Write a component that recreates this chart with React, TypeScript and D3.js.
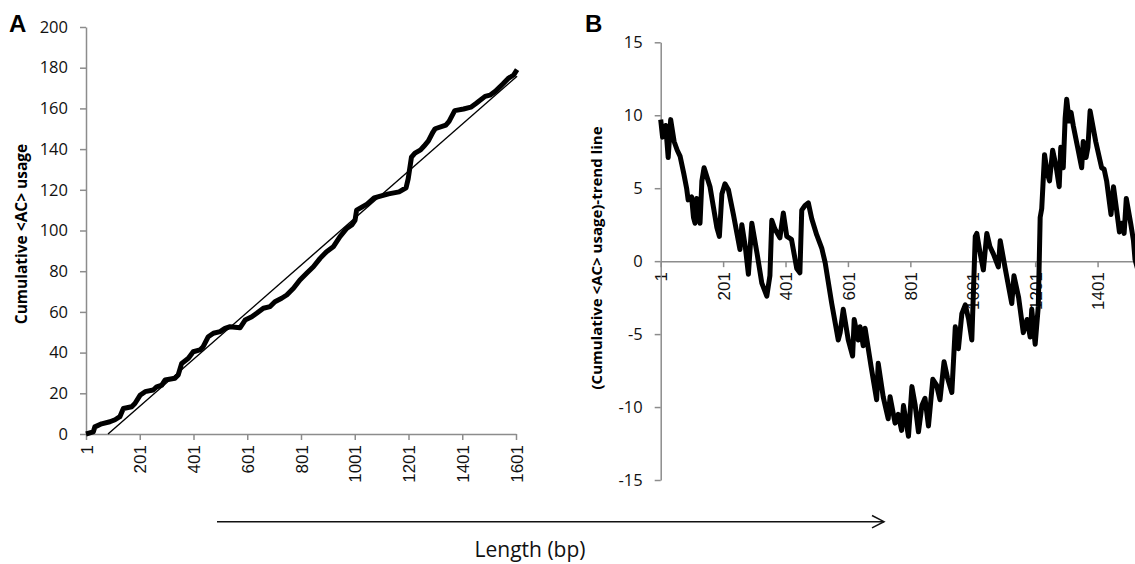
import React, { useEffect, useRef } from "react";
import * as d3 from "d3";

// Panel A: cumulative <AC> usage along the sequence
const aPos = [1, 28, 34, 59, 90, 109, 127, 140, 171, 183, 202, 221, 251, 264, 283, 295, 332, 344, 357, 382, 400, 425, 437, 456, 475, 500, 518, 537, 574, 593, 618, 636, 661, 686, 704, 729, 748, 773, 797, 822, 847, 872, 896, 921, 946, 971, 990, 1002, 1008, 1047, 1073, 1127, 1166, 1192, 1200, 1212, 1225, 1246, 1259, 1275, 1292, 1300, 1340, 1352, 1373, 1406, 1433, 1452, 1486, 1504, 1525, 1552, 1571, 1592, 1605];
const aVal = [0, 1, 3.5, 5, 6, 7, 8.5, 12.5, 13.4, 15, 19, 20.8, 21.6, 23.2, 24, 26.5, 27.4, 29, 34.7, 37.2, 40.4, 41.3, 42.9, 47.8, 49.5, 50.3, 51.9, 52.7, 52.2, 56, 57.6, 59.3, 61.8, 62.6, 65, 66.7, 68.3, 71.6, 75.7, 79, 82.2, 86.3, 89.6, 92, 97, 101, 102.7, 105, 110, 113, 116, 118, 119, 121, 125.5, 136, 138, 139.6, 141.5, 144, 148.4, 150, 151.8, 153.6, 158.9, 159.7, 160.6, 162.4, 165.9, 166.5, 168.5, 172, 174.6, 176.4, 179];
// linear trend line of panel A
const trendPos = [83, 1605];
const trendVal = [0, 175.8];

// Panel B: cumulative usage minus trend line
const bPos = [1, 7, 17, 25, 33, 44, 54, 63, 75, 84, 89, 100, 106, 111, 116, 127, 133, 140, 159, 170, 181, 189, 197, 207, 218, 234, 255, 261, 272, 282, 293, 310, 325, 341, 351, 357, 367, 383, 394, 405, 420, 437, 447, 453, 463, 474, 485, 501, 517, 528, 549, 570, 576, 586, 602, 616, 621, 634, 640, 650, 656, 675, 693, 698, 714, 730, 736, 752, 762, 773, 779, 795, 806, 816, 827, 838, 848, 859, 873, 885, 896, 909, 920, 934, 945, 955, 966, 977, 988, 998, 1009, 1014, 1025, 1035, 1046, 1056, 1067, 1083, 1089, 1105, 1126, 1133, 1148, 1163, 1175, 1185, 1190, 1201, 1211, 1217, 1222, 1231, 1240, 1247, 1257, 1268, 1278, 1283, 1291, 1297, 1302, 1310, 1316, 1323, 1337, 1350, 1355, 1364, 1370, 1377, 1395, 1414, 1422, 1430, 1444, 1452, 1462, 1471, 1478, 1486, 1493, 1507, 1516, 1521, 1535];
const bVal = [9.7, 8.5, 9.3, 7.1, 9.7, 8.2, 7.6, 7.2, 6.0, 5.0, 4.2, 4.4, 3.0, 2.6, 4.3, 2.6, 5.5, 6.4, 5.1, 3.7, 2.3, 1.7, 4.6, 5.3, 4.9, 3.2, 0.8, 2.5, 1.0, -0.9, 2.6, 0.5, -1.5, -2.4, -1.0, 2.8, 2.2, 1.6, 3.3, 1.7, 1.5, -0.5, -0.8, 3.5, 3.8, 4.0, 2.9, 1.8, 0.9, -0.1, -2.9, -5.4, -4.9, -3.3, -5.4, -6.5, -4.0, -5.4, -4.5, -5.8, -4.6, -7.2, -9.5, -7.0, -9.3, -10.8, -9.3, -11.1, -10.5, -11.6, -9.9, -12.0, -8.6, -9.8, -11.7, -9.9, -9.4, -11.3, -8.1, -8.5, -9.5, -6.9, -8.0, -9.0, -4.5, -6.0, -3.6, -3.0, -4.0, -5.4, 1.7, 1.9, 0.5, -0.6, 1.9, 1.0, 0.5, -0.4, 1.4, -0.5, -2.9, -1.0, -2.5, -4.9, -4.0, -5.2, -3.3, -5.7, -3.1, 3.0, 3.6, 7.3, 6.0, 5.5, 7.6, 6.5, 5.1, 7.8, 6.4, 9.8, 11.1, 9.6, 10.2, 9.3, 7.8, 6.4, 8.2, 7.1, 7.8, 10.3, 8.2, 6.4, 6.3, 5.5, 3.2, 5.1, 3.5, 2.0, 2.6, 1.9, 4.3, 2.6, 1.4, 0.1, -1.0];

const xTicks = [1, 201, 401, 601, 801, 1001, 1201, 1401, 1601];
const aYTicks = [0, 20, 40, 60, 80, 100, 120, 140, 160, 180, 200];
const bYTicks = [-15, -10, -5, 0, 5, 10, 15];

const AXIS = "#8c8c8c";
const W = 1135, H = 564;

const App = () => {
  const ref = useRef<SVGSVGElement>(null);

  useEffect(() => {
    const svg = d3.select(ref.current);
    svg.selectAll("*").remove();

    const plain = (d: any) => String(d); // hyphen minus, like the original

    const styleAxis = (g: any) => {
      g.select(".domain").attr("stroke", AXIS).attr("stroke-width", 1.5);
      g.selectAll(".tick line").attr("stroke", AXIS).attr("stroke-width", 1.5);
      g.selectAll("text").attr("fill", "#111");
    };
    const rotateLabels = (g: any) => {
      g.selectAll("text")
        .attr("transform", "rotate(-90)")
        .attr("x", -11)
        .attr("y", 0)
        .attr("dy", "0.36em")
        .style("text-anchor", "end")
        .attr("font-family", "'Liberation Sans', Arial, sans-serif")
        .attr("font-size", 17);
    };

    // ---------- Panel A ----------
    const xA = d3.scaleLinear().domain([1, 1601]).range([86, 516]);
    const yA = d3.scaleLinear().domain([0, 200]).range([434, 27]);

    svg.append("g")
      .attr("transform", `translate(0,${yA(0)})`)
      .call(d3.axisBottom(xA).tickValues(xTicks).tickSize(6).tickSizeOuter(0).tickFormat(plain))
      .call(styleAxis)
      .call(rotateLabels);

    svg.append("g")
      .attr("transform", `translate(${xA(1)},0)`)
      .call(d3.axisLeft(yA).tickValues(aYTicks).tickSize(6).tickSizeOuter(0).tickPadding(12).tickFormat(plain))
      .call(styleAxis)
      .call((g: any) => g.selectAll("text").attr("font-family", "'Open Sans', sans-serif").attr("font-size", 16.5));

    svg.append("path")
      .datum(trendVal)
      .attr("fill", "none")
      .attr("stroke", "#000")
      .attr("stroke-width", 1.4)
      .attr("d", d3.line<number>().x((d, i) => xA(trendPos[i])).y((d) => yA(d)));
    svg.append("path")
      .datum(aVal)
      .attr("fill", "none")
      .attr("stroke", "#000")
      .attr("stroke-width", 5)
      .attr("stroke-linejoin", "round")
      .attr("d", d3.line<number>().x((d, i) => xA(aPos[i])).y((d) => yA(d)));

    // ---------- Panel B ----------
    const xB = d3.scaleLinear().domain([1, 1601]).range([660.7, 1160]);
    const yB = d3.scaleLinear().domain([-15, 15]).range([480, 42.3]);
    // the right part of panel B is cut by the picture edge
    const bXTicks = xTicks.filter((t) => xB(t) < W - 10);

    svg.append("g")
      .attr("transform", `translate(0,${yB(0)})`)
      .call(d3.axisBottom(xB).tickValues(bXTicks).tickSize(6).tickSizeOuter(0).tickFormat(plain))
      .call(styleAxis)
      .call(rotateLabels);

    svg.append("g")
      .attr("transform", `translate(${xB(1)},0)`)
      .call(d3.axisLeft(yB).tickValues(bYTicks).tickSize(6).tickSizeOuter(0).tickPadding(12).tickFormat(plain))
      .call(styleAxis)
      .call((g: any) => g.selectAll("text").attr("font-family", "'Open Sans', sans-serif").attr("font-size", 16.5));

    svg.append("path")
      .datum(bVal)
      .attr("fill", "none")
      .attr("stroke", "#000")
      .attr("stroke-width", 5)
      .attr("stroke-linejoin", "round")
      .attr("d", d3.line<number>().x((d, i) => xB(bPos[i])).y((d) => yB(d)));

    // ---------- labels ----------
    const sans = "'Open Sans', sans-serif";
    svg.append("text").text("A").attr("x", 9).attr("y", 32)
      .attr("font-family", "'Liberation Sans', Arial, sans-serif").attr("font-weight", "bold").attr("font-size", 24);
    svg.append("text").text("B").attr("x", 585).attr("y", 32)
      .attr("font-family", "'Liberation Sans', Arial, sans-serif").attr("font-weight", "bold").attr("font-size", 24);

    svg.append("text").text("Cumulative <AC> usage")
      .attr("transform", "translate(22,234) rotate(-90)")
      .attr("text-anchor", "middle").attr("dy", "0.35em")
      .attr("font-family", sans).attr("font-weight", "bold").attr("font-size", 15.5);
    svg.append("text").text("(Cumulative <AC> usage)-trend line")
      .attr("transform", "translate(597,258) rotate(-90)")
      .attr("text-anchor", "middle").attr("dy", "0.35em")
      .attr("font-family", sans).attr("font-weight", "bold").attr("font-size", 15);

    // ---------- length arrow ----------
    svg.append("line").attr("x1", 217).attr("x2", 884).attr("y1", 521.7).attr("y2", 521.7)
      .attr("stroke", "#111").attr("stroke-width", 1.5);
    svg.append("path").attr("d", "M872,515.5 L884,521.7 L872,527.9")
      .attr("fill", "none").attr("stroke", "#111").attr("stroke-width", 1.5);
    svg.append("text").text("Length (bp)").attr("x", 530).attr("y", 557)
      .attr("text-anchor", "middle")
      .attr("font-family", sans).attr("font-size", 21).attr("fill", "#111");
  }, []);

  return (
    <svg ref={ref} width={W} height={H}
      style={{ position: "absolute", left: 0, top: 0, background: "#fff" }} />
  );
};

export default App;
